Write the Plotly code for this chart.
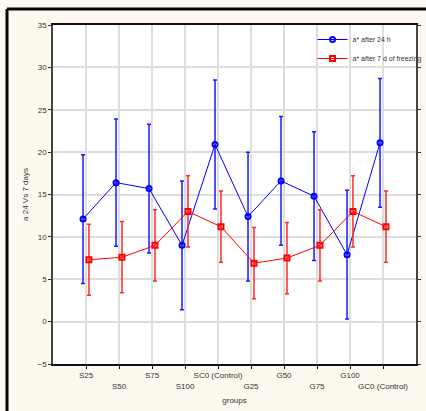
import plotly.graph_objects as go

groups = ["S25", "S50", "S75", "S100", "SC0 (Control)", "G25", "G50", "G75", "G100", "GC0 (Control)"]
a24_mean = [12.1, 16.4, 15.7, 9.0, 20.9, 12.4, 16.6, 14.8, 7.9, 21.1]
a24_err = [7.6, 7.5, 7.6, 7.6, 7.6, 7.6, 7.6, 7.6, 7.6, 7.6]
a7_mean = [7.3, 7.6, 9.0, 13.0, 11.2, 6.9, 7.5, 9.0, 13.0, 11.2]
a7_err = [4.2, 4.2, 4.2, 4.2, 4.2, 4.2, 4.2, 4.2, 4.2, 4.2]
y_ticks = [-5, 0, 5, 10, 15, 20, 25, 30, 35]

idx = list(range(len(groups)))
off = 0.09
tick_text = [g if i % 2 == 0 else "<br>" + g for i, g in enumerate(groups)]

fig = go.Figure()
fig.add_trace(go.Scatter(
    x=[i - off for i in idx], y=a24_mean, mode="lines+markers",
    name="a* after 24 h",
    line=dict(color="#0000ff", width=1),
    marker=dict(symbol="circle-open", size=5, color="#0000ff", line=dict(width=2, color="#0000ff")),
    error_y=dict(type="data", array=a24_err, visible=True, color="#1a1aff", thickness=1.5, width=2),
))
fig.add_trace(go.Scatter(
    x=[i + off for i in idx], y=a7_mean, mode="lines+markers",
    name="a* after 7 d of freezing",
    line=dict(color="#ff0000", width=1),
    marker=dict(symbol="square-open", size=5, color="#ff0000", line=dict(width=2, color="#ff0000")),
    error_y=dict(type="data", array=a7_err, visible=True, color="#ff2a2a", thickness=1.5, width=2),
))

fig.update_layout(
    width=426, height=411,
    margin=dict(l=53, r=10, t=25, b=47, autoexpand=False),
    paper_bgcolor="#fdf9ee", plot_bgcolor="#ffffff",
    font=dict(family="Liberation Sans, Arial", size=8, color="#333333"),
    showlegend=True,
    legend=dict(x=0.715, y=1.0, xanchor="left", yanchor="top",
                bgcolor="rgba(0,0,0,0)", font=dict(size=7, color="#333333"),
                itemwidth=30, tracegroupgap=0),
    xaxis=dict(
        range=[-1, 10], tickmode="array", tickvals=idx, ticktext=tick_text,
        tickangle=0, automargin=False,
        showgrid=True, gridcolor="#dddddd", gridwidth=1.5,
        showline=True, linecolor="#111111", linewidth=1.5, mirror=True,
        ticks="outside", ticklen=3, tickcolor="#111111",
        zeroline=False,
        title=dict(text="groups", font=dict(size=8), standoff=8),
    ),
    yaxis=dict(
        range=[-5, 35], tickmode="array", tickvals=y_ticks, automargin=False,
        showgrid=True, gridcolor="#dddddd", gridwidth=1.5,
        showline=True, linecolor="#444444", linewidth=1.5, mirror="ticks",
        ticks="outside", ticklen=3, tickcolor="#333333",
        zeroline=False,
        title=dict(text="a 24 Vs 7 days", font=dict(size=8), standoff=8),
    ),
)

# thick black border on left and top of the figure
fig.add_shape(type="line", xref="paper", yref="paper",
              x0=-46/363, x1=1.2, y0=1 + 16/339, y1=1 + 16/339,
              line=dict(color="black", width=3))
fig.add_shape(type="line", xref="paper", yref="paper",
              x0=-46/363, x1=-46/363, y0=1 + 16/339, y1=-0.2,
              line=dict(color="black", width=3))

fig.write_html("out.html")
